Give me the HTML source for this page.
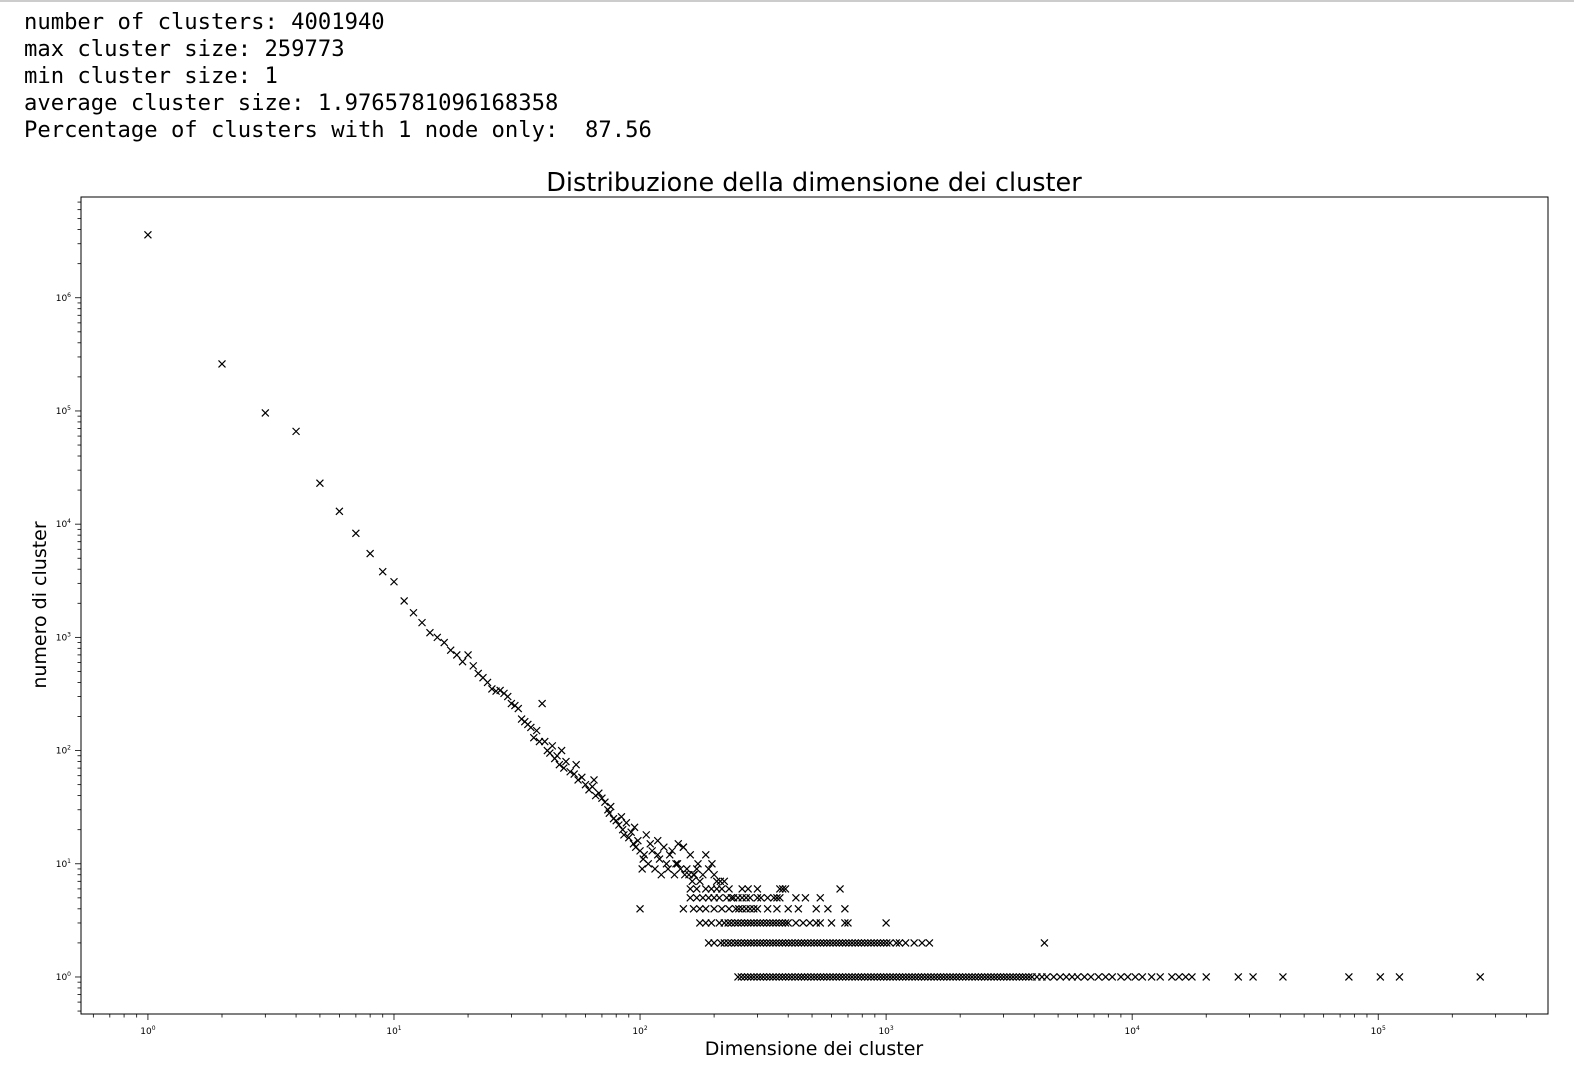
<!DOCTYPE html>
<html><head><meta charset="utf-8"><style>
body{margin:0;background:#fff;width:1574px;height:1070px;overflow:hidden;position:relative}
#topline{position:absolute;left:0;top:0;width:1574px;height:2px;background:#ccc}
#stats{position:absolute;left:24px;top:9px;font:22.2px/27px "DejaVu Sans Mono","Liberation Mono",monospace;white-space:pre;color:#000}
svg{position:absolute;left:0;top:0}
</style></head><body>
<div id="topline"></div>
<div id="stats">number of clusters: 4001940
max cluster size: 259773
min cluster size: 1
average cluster size: 1.9765781096168358
Percentage of clusters with 1 node only:  87.56</div>
<svg id="chart" width="1574" height="1070"></svg>
<script>
const mainSizes=[1,2,3,4,5,6,7,8,9,10,11,12,13,14,15,16,17,18,19,20,21,22,23,24,25,26,27,28,29,30,31,32,33,34,35,36,37,38,39,40,41,42,43,44,45,46,47,48,49,50,52,54,55,56,58,60,62,64,65,66,68,70,72,74,75,76,78,80,82,84,85,86,88,90,92,94,95,96,98,100];
const mainCounts=[3600000,260000,96000,66000,23000,13000,8300,5500,3800,3100,2100,1650,1350,1100,1000,900,770,700,610,700,560,480,440,400,350,335,340,320,300,260,250,235,190,180,170,160,130,150,120,260,120,100,95,110,85,90,75,100,70,80,65,62,75,55,58,50,45,48,55,40,42,38,35,30,28,32,25,24,22,26,20,18,23,17,19,15,21,14,16,13];
const scatSizes=[102,104,106,108,110,112,115,118,120,122,125,128,130,132,135,138,140,143,146,150,152,155,158,160,163,166,170,172,175,180,185,190,196,200,205,212,220,103,118,142,150,165];
const scatCounts=[9,12,18,10,15,13,9,12,11,8,14,10,9,12,13,8,10,15,9,14,8,9,8,12,7,8,9,10,7,8,12,9,10,8,7,7,7,11,16,10,14,8];
const row1=[250,258,266,274,282,290,299,308,317,327,337,347,357,368,379,390,402,414,427,440,453,466,480,495,510,525,541,557,574,591,609,627,646,665,685,706,727,749,771,794,818,843,868,894,921,949,977,1006,1037,1068,1100,1133,1167,1202,1238,1275,1313,1352,1393,1435,1478,1522,1568,1615,1663,1713,1765,1818,1872,1928,1986,2046,2107,2170,2235,2302,2371,2442,2516,2591,2669,2749,2831,2916,3004,3094,3187,3282,3381,3482,3587,3694,3805,3919,4100,4300,4500,4800,5100,5400,5700,6000,6400,6800,7300,7800,8300,9000,9600,10300,11000,12000,13000,14500,15500,16500,17500,20000,27000,31000,41000,76000,102000,122000,259773];
const row2=[190,200,213,220,228,235,243,250,258,266,274,282,290,299,308,317,327,337,347,357,368,379,390,402,414,427,440,453,466,480,495,510,525,541,557,574,591,609,627,646,665,685,706,727,749,771,794,818,843,868,894,921,949,977,1006,1037,1100,1133,1200,1300,1400,1500,4400];
const row3=[175,185,195,210,220,228,235,243,250,258,266,274,282,290,299,308,317,327,337,347,357,368,379,390,400,430,460,490,520,540,600,680,700,1000];
const row4=[100,150,165,175,185,200,215,230,245,252,260,270,280,290,300,330,360,400,440,520,580,680];
const row5=[160,170,180,190,200,210,225,235,240,250,260,270,280,300,310,330,350,360,370,430,470,540];
const row6=[160,170,185,195,205,215,230,260,275,300,370,380,390,650];
const xTickExps=[0,1,2,3,4,5];
const yTickExps=[0,1,2,3,4,5,6];

const L=81,R=1548,T=197,B=1014;
const xMin=-0.272,xMax=5.69,yMin=-0.327,yMax=6.89;
const X=v=>L+(Math.log10(v)-xMin)/(xMax-xMin)*(R-L);
const Y=v=>B-(Math.log10(v)-yMin)/(yMax-yMin)*(B-T);
const svg=document.getElementById('chart');const NS='http://www.w3.org/2000/svg';
function mk(t,a,p){const e=document.createElementNS(NS,t);for(const k in a)e.setAttribute(k,a[k]);(p||svg).appendChild(e);return e;}
const frame=mk('rect',{x:L,y:T,width:R-L,height:B-T,fill:'none',stroke:'#000','stroke-width':1});


const gx=mk('g',{});


for(let e=-1;e<=5;e++)for(let m=1;m<10;m++){const v=m*Math.pow(10,e);const lv=Math.log10(v);if(lv<xMin||lv>xMax)continue;const x=X(v);mk('line',{x1:x,x2:x,y1:B,y2:B+(m==1?6:3.5),stroke:'#000','stroke-width':0.8},gx);}
xTickExps.forEach(e=>{const t=mk('text',{x:X(Math.pow(10,e)),y:B+20,'font-size':9,'text-anchor':'middle','font-family':'DejaVu Sans, Liberation Sans, sans-serif'},gx);t.innerHTML='10<tspan dy="-4" font-size="6">'+e+'</tspan>';});
const gy=mk('g',{});


for(let e=-1;e<=6;e++)for(let m=1;m<10;m++){const v=m*Math.pow(10,e);const lv=Math.log10(v);if(lv<yMin||lv>yMax)continue;const y=Y(v);mk('line',{x1:L,x2:L-(m==1?6:3.5),y1:y,y2:y,stroke:'#000','stroke-width':0.8},gy);}
yTickExps.forEach(e=>{const t=mk('text',{x:L-10,y:Y(Math.pow(10,e))+3,'font-size':9,'text-anchor':'end','font-family':'DejaVu Sans, Liberation Sans, sans-serif'},gy);t.innerHTML='10<tspan dy="-4" font-size="6">'+e+'</tspan>';});
const title=mk('text',{x:814,y:191,'font-size':25.5,'text-anchor':'middle','font-family':'DejaVu Sans, Liberation Sans, sans-serif'});title.textContent='Distribuzione della dimensione dei cluster';


const xl=mk('text',{x:814,y:1055,'font-size':19,'text-anchor':'middle','font-family':'DejaVu Sans, Liberation Sans, sans-serif'});xl.textContent='Dimensione dei cluster';


const yl=mk('text',{x:0,y:0,'font-size':19,'text-anchor':'middle','font-family':'DejaVu Sans, Liberation Sans, sans-serif',transform:'translate(46,605) rotate(-90)'});yl.textContent='numero di cluster';


const gp=mk('g',{stroke:'#000','stroke-width':1.2});


function pt(s,c){const x=X(s),y=Y(c),r=3.5;const p=mk('path',{d:`M${x-r},${y-r}L${x+r},${y+r}M${x-r},${y+r}L${x+r},${y-r}`},gp);}
mainSizes.forEach((s,i)=>pt(s,mainCounts[i]));
scatSizes.forEach((s,i)=>pt(s,scatCounts[i]));
row1.forEach(s=>pt(s,1));row2.forEach(s=>pt(s,2));row3.forEach(s=>pt(s,3));
row4.forEach(s=>pt(s,4));row5.forEach(s=>pt(s,5));row6.forEach(s=>pt(s,6));
</script>
</body></html>
